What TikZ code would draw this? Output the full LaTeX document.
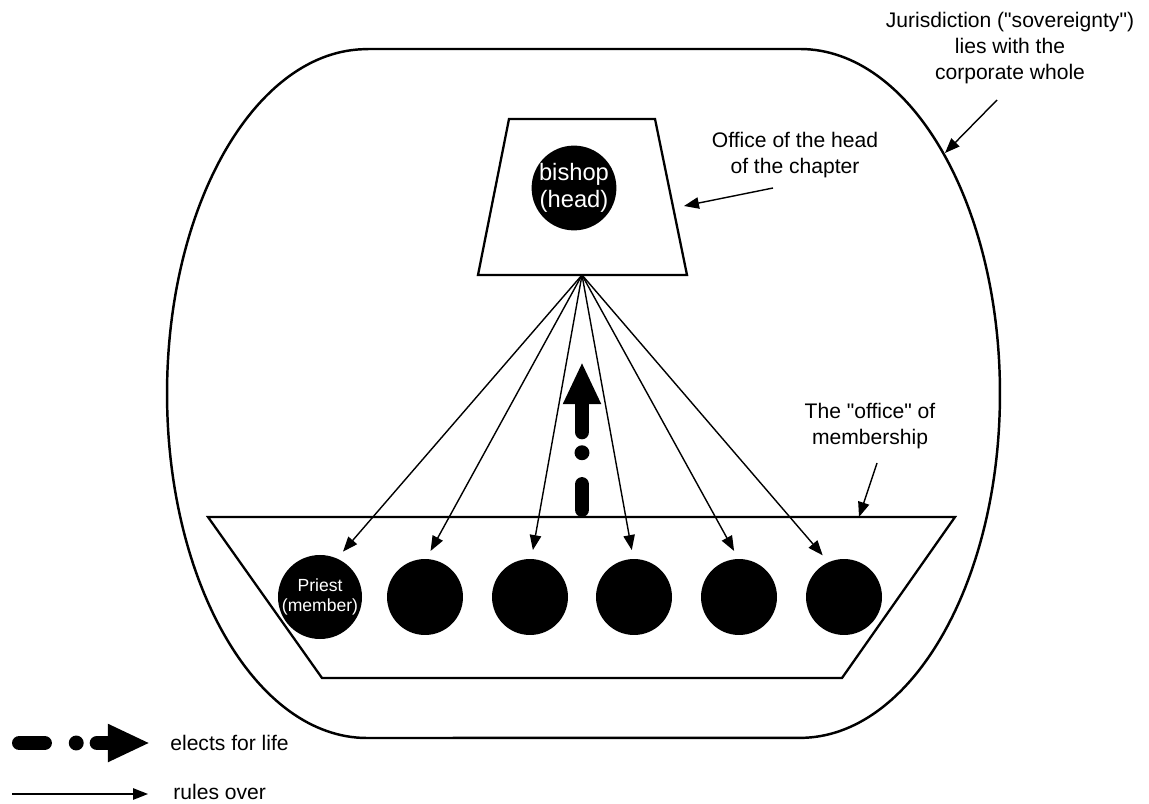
\documentclass[tikz,border=0pt]{standalone}
\usepackage{fontspec}
\setmainfont{Liberation Sans}[Ligatures=TeXOff]
\usetikzlibrary{arrows.meta}
\tikzset{
	office/.style = {draw, line width=1.3pt, line join=miter},
	member/.style = {circle, fill=black, minimum size=1.52cm, inner sep=0pt,
	  text=white, align=center, font=\fontsize{10}{11}\selectfont},
	head/.style = {circle, fill=black, minimum size=1.68cm, inner sep=0pt,
	  text=white, align=center, font=\fontsize{13.5}{15}\selectfont},
	lbl/.style = {align=center, inner sep=0pt, font=\fontsize{12}{14.7}\selectfont},
	rules/.style = {-{Triangle[length=8.5pt,width=6.5pt]}, line width=0.8pt},
	elects/.style = {-{Triangle[length=24pt,width=20pt]}, line width=8.5pt,
	  line cap=round, dash pattern=on 14.2pt off 18.1pt on 0pt off 11.9pt on 57pt},
}

\begin{document}
\begin{tikzpicture}[x=0.02cm, y=-0.02cm]
    \useasboundingbox (0,0) rectangle (1149,804);
    % the corporate whole
    \draw[line width=1.4pt] (367,49) -- (800,49)
      arc[start angle=90, end angle=-90, x radius=4cm, y radius=6.89cm] -- (367,738)
      arc[start angle=270, end angle=90, x radius=4cm, y radius=6.89cm] -- cycle;
    \coordinate (whole) at (945,153);

    % office of the head
    \draw[office] (509,119) -- (655,119) -- (687,275) -- (478,275) -- cycle;
    \coordinate (apex) at (582,275);
    \coordinate (headside) at (684,206);
    \node[head] (bishop) at (574,188) {bishop\\(head)};

    % office of membership
    \draw[office] (208,517) -- (955,517) -- (842,678) -- (322,678) -- cycle;
    \coordinate (memtop) at (859,517);
    \node[member] (m1) at (320,597) {Priest\\(member)};
    \foreach \i/\x in {2/425,3/530,4/634,5/739,6/844}
      \node[member] (m\i) at (\x,597) {};

    \foreach \i/\a in {1/66,2/88,3/88,4/91,5/91,6/114}
      \draw[rules, shorten >=5pt] (apex) -- (m\i.\a);

    \coordinate (elfoot) at (582,509.5);
    \coordinate (eltip) at (582,362);
    \draw[elects] (elfoot) -- (eltip);

    % labels
    \node[lbl] (jur) at (1010,48) {Jurisdiction ("sovereignty")\\lies with the\\corporate whole};
    \coordinate (jurfoot) at (997,100);
    \draw[rules] (jurfoot) -- (whole);
    \node[lbl] (headlbl) at (795,155) {Office of the head\\of the chapter};
    \coordinate (headfoot) at (773,188);
    \draw[rules] (headfoot) -- (headside);
    \node[lbl] (memlbl) at (870,426) {The "office" of\\membership};
    \coordinate (memfoot) at (877,463);
    \draw[rules] (memfoot) -- (memtop);

    % legend
    \coordinate (lega) at (19.5,743);
    \coordinate (legb) at (150,743);
    \draw[elects] (lega) -- (legb);
    \node[lbl, anchor=west] (electlbl) at (170,743) {elects for life};
    \coordinate (legc) at (12,794);
    \coordinate (legd) at (148,794);
    \draw[rules] (legc) -- (legd);
    \node[lbl, anchor=west] (ruleslbl) at (173,792) {rules over};
\end{tikzpicture}
\end{document}
